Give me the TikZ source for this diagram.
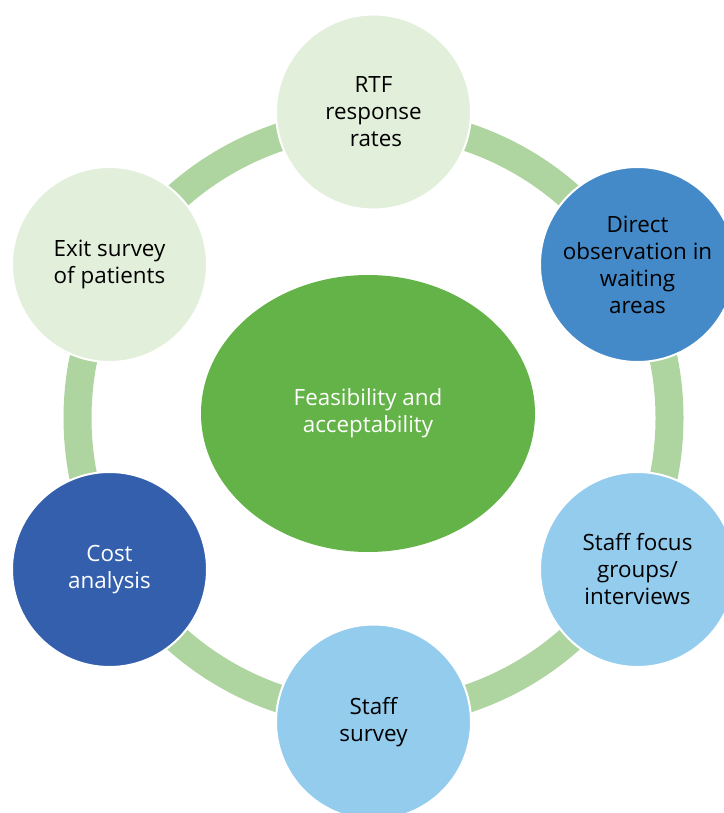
\documentclass[tikz,border=0pt]{standalone}
\usepackage{fontspec}
\setmainfont{Open Sans}
\usetikzlibrary{shapes.geometric}
\definecolor{ringgreen}{HTML}{AED4A0}
\definecolor{palegreen}{HTML}{E2EFDA}
\definecolor{midblue}{HTML}{4489C8}
\definecolor{lightblue}{HTML}{94CCEE}
\definecolor{darkblue}{HTML}{345FAD}
\definecolor{centergreen}{HTML}{64B348}
\tikzset{
  bubble/.style={circle, draw=white, line width=2pt, minimum size=195pt, inner sep=0pt,
    align=center, font=\fontsize{22.4pt}{27pt}\selectfont},
  hub/.style={ellipse, minimum width=334pt, minimum height=277pt, inner sep=0pt,
    fill=centergreen, text=white, align=center, font=\fontsize{22.4pt}{27pt}\selectfont},
  ring/.style={draw=ringgreen, line width=28pt}
}
\begin{document}
\begin{tikzpicture}[x=1pt,y=-1pt]
\useasboundingbox (0,0) rectangle (723,813);
\coordinate (c) at (373.5,418);
\draw[ring] (c) circle[radius=296];
\node[bubble, fill=palegreen] (rtf) at (373.5,112) {RTF\\response\\\hspace{5pt}rates};
\node[bubble, fill=midblue] (obs) at (637.5,264.5) {Direct\\observation in\\waiting\\areas};
\node[bubble, fill=lightblue] (focus) at (637.5,569.5) {Staff focus\\groups/\\interviews};
\node[bubble, fill=lightblue] (survey) at (373.5,722) {Staff\\survey};
\node[bubble, fill=darkblue, text=white] (cost) at (109.5,569.5) {Cost\\analysis};
\node[bubble, fill=palegreen] (exit) at (109.5,264.5) {Exit survey\\of patients};
\node[hub] (hub) at (368,413.5) {Feasibility and\\acceptability};
\end{tikzpicture}
\end{document}
